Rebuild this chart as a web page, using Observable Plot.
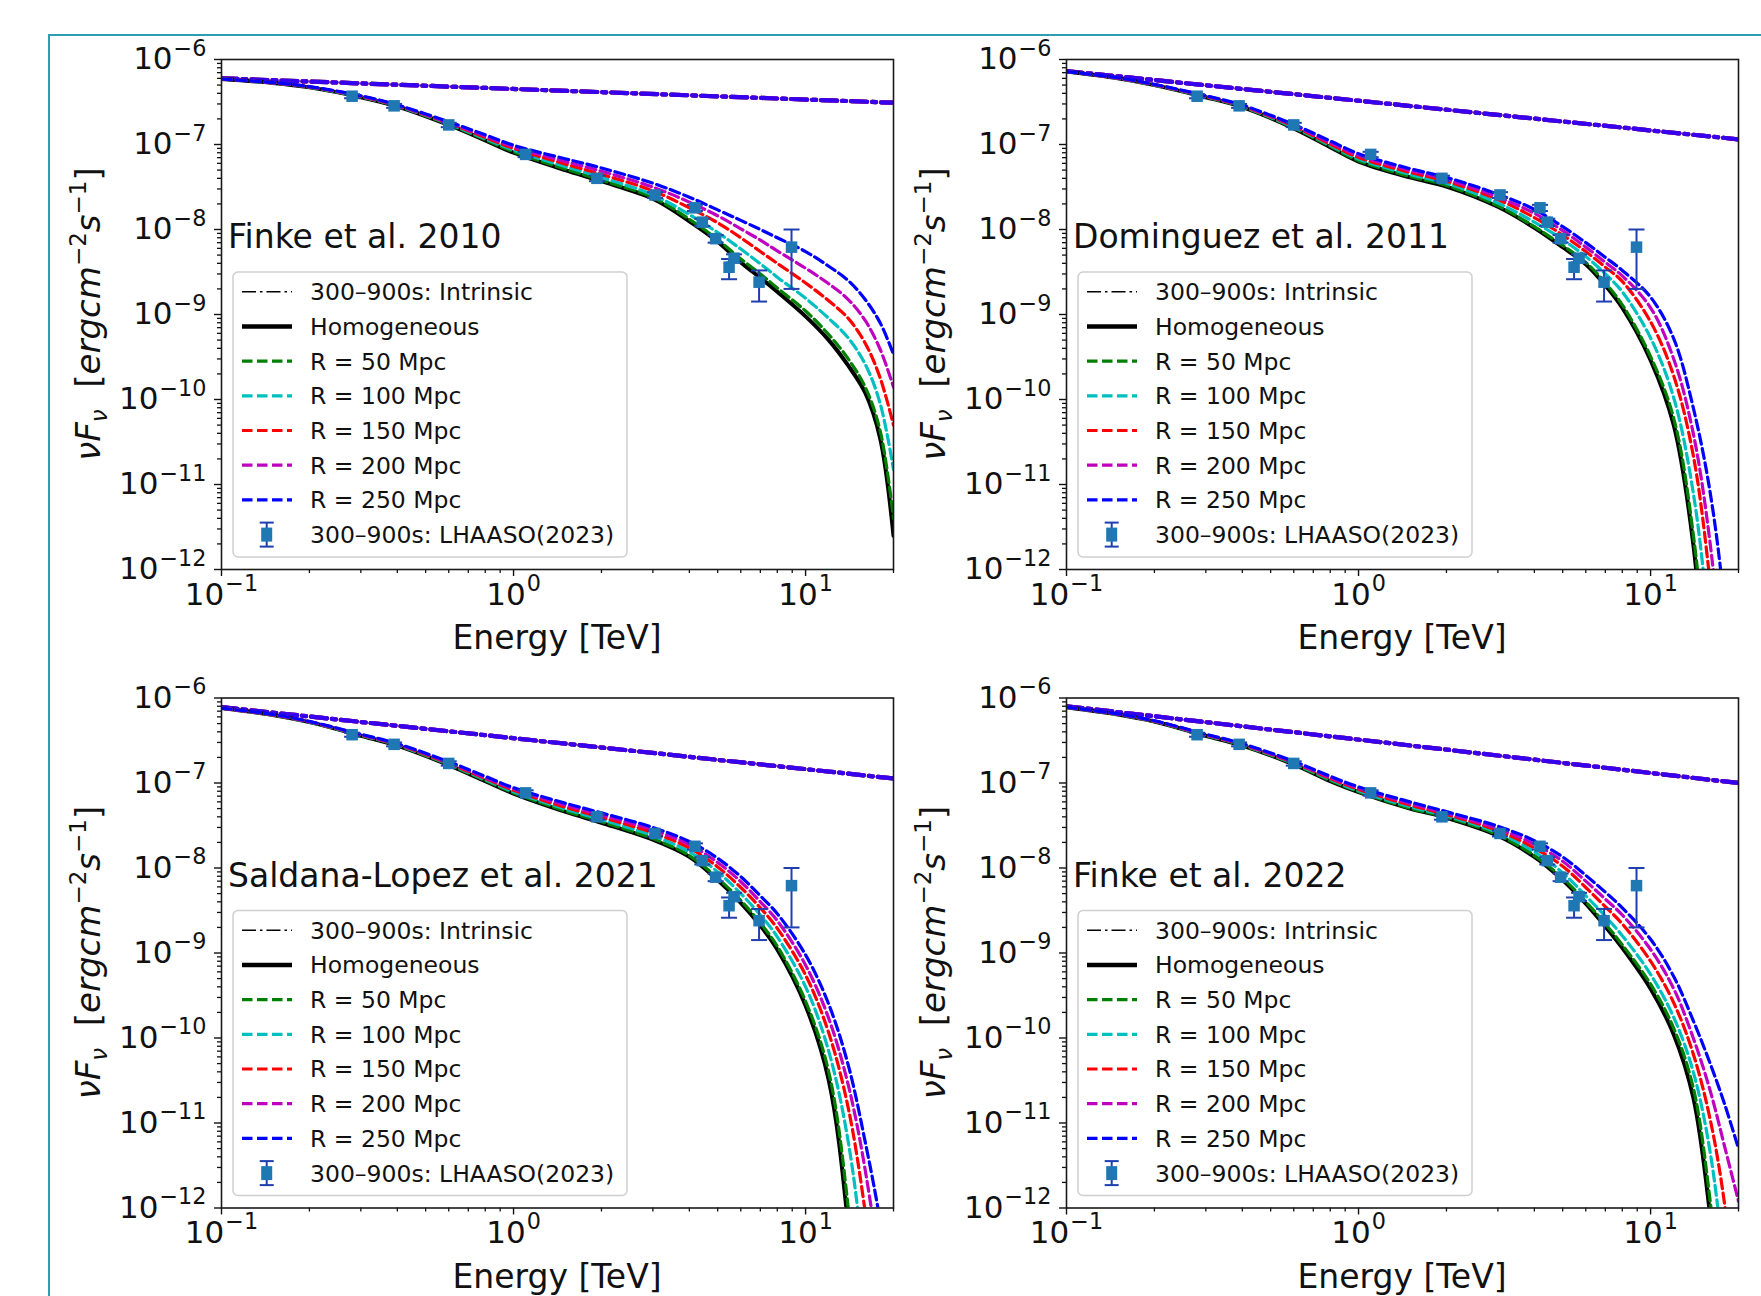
<!DOCTYPE html>
<html><head><meta charset="utf-8">
<script src="https://cdn.jsdelivr.net/npm/d3@7"></script>
<script src="https://cdn.jsdelivr.net/npm/@observablehq/plot@0.6"></script>
<style>
html,body{margin:0;padding:0;background:#fff;overflow:hidden;}
#root{position:relative;width:1761px;height:1296px;overflow:hidden;font-family:"DejaVu Sans";}
#root svg{position:absolute;left:0;top:0;}
#border{position:absolute;left:48px;top:34px;width:1800px;height:1400px;border-left:2px solid #2a9fb2;border-top:2px solid #2a9fb2;}
</style></head>
<body><div id="root"><div id="border"></div></div>
<script>
// ---------------- data ----------------
const energy = [0.1, 0.15, 0.2, 0.3, 0.4, 0.6, 0.8, 1, 1.5, 2, 3, 4, 5, 6, 7, 8, 10, 12, 14, 16, 18, 20];
const intrinsicEnergy = [0.1, 20];
const majorTicksX = [0.1, 1, 10];
const majorTicksY = [1e-12, 1e-11, 1e-10, 1e-9, 1e-8, 1e-7, 1e-6];
const panelTitles = ["Finke et al. 2010", "Dominguez et al. 2011", "Saldana-Lopez et al. 2021", "Finke et al. 2022"];
const seriesNames = ["Homogeneous", "R = 50 Mpc", "R = 100 Mpc", "R = 150 Mpc", "R = 200 Mpc", "R = 250 Mpc"];
const legendLabels = ["300\u2013900s: Intrinsic", "Homogeneous", "R = 50 Mpc", "R = 100 Mpc", "R = 150 Mpc", "R = 200 Mpc", "R = 250 Mpc", "300\u2013900s: LHAASO(2023)"];

// LHAASO 300-900 s
const lhaasoE  = [0.28, 0.39, 0.60, 1.10, 1.93, 3.05, 4.18, 4.43, 4.92, 5.47, 5.69, 6.93, 8.95];
const lhaasoF  = [3.7e-7, 2.85e-7, 1.7e-7, 7.65e-8, 4.0e-8, 2.55e-8, 1.8e-8, 1.22e-8, 7.8e-9, 3.6e-9, 4.6e-9, 2.4e-9, 6.2e-9];
const lhaasoLo = [3.5e-7, 2.7e-7, 1.6e-7, 7.1e-8, 3.7e-8, 2.35e-8, 1.65e-8, 1.1e-8, 7.0e-9, 2.6e-9, 4.1e-9, 1.42e-9, 2.0e-9];
const lhaasoHi = [3.9e-7, 3.0e-7, 1.8e-7, 8.2e-8, 4.3e-8, 2.75e-8, 1.95e-8, 1.34e-8, 8.6e-9, 4.5e-9, 5.1e-9, 3.3e-9, 1.0e-8];

// Finke et al. 2010
const intrinsicA = [6.0e-7, 3.1e-7];
const homA  = [5.9e-7, 5.3e-7, 4.7e-7, 3.6e-7, 2.8e-7, 1.7e-7, 1.12e-7, 8.0e-8, 5.0e-8, 3.7e-8, 2.3e-8, 1.25e-8, 7.2e-9, 4.1e-9, 2.7e-9, 1.85e-9, 9.5e-10, 5.0e-10, 2.5e-10, 1.2e-10, 3.5e-11, 2.5e-12];
const r50A  = [5.9e-7, 5.3e-7, 4.72e-7, 3.62e-7, 2.82e-7, 1.72e-7, 1.14e-7, 8.2e-8, 5.15e-8, 3.8e-8, 2.38e-8, 1.32e-8, 7.6e-9, 4.5e-9, 3.0e-9, 2.05e-9, 1.1e-9, 5.8e-10, 3.0e-10, 1.4e-10, 4.3e-11, 4e-12];
const r100A = [5.9e-7, 5.31e-7, 4.74e-7, 3.65e-7, 2.84e-7, 1.75e-7, 1.17e-7, 8.6e-8, 5.5e-8, 4.1e-8, 2.55e-8, 1.5e-8, 9.2e-9, 5.9e-9, 3.95e-9, 2.75e-9, 1.55e-9, 9.0e-10, 5.3e-10, 2.6e-10, 9.0e-11, 1.5e-11];
const r150A = [5.9e-7, 5.32e-7, 4.76e-7, 3.68e-7, 2.87e-7, 1.78e-7, 1.21e-7, 9.0e-8, 5.9e-8, 4.45e-8, 2.85e-8, 1.8e-8, 1.2e-8, 8.0e-9, 5.5e-9, 4.0e-9, 2.35e-9, 1.45e-9, 9.0e-10, 4.6e-10, 1.8e-10, 5.0e-11];
const r200A = [5.9e-7, 5.33e-7, 4.78e-7, 3.71e-7, 2.89e-7, 1.81e-7, 1.25e-7, 9.4e-8, 6.3e-8, 4.85e-8, 3.15e-8, 2.1e-8, 1.45e-8, 1.02e-8, 7.5e-9, 5.6e-9, 3.5e-9, 2.3e-9, 1.5e-9, 8.5e-10, 3.9e-10, 1.4e-10];
const r250A = [5.9e-7, 5.35e-7, 4.8e-7, 3.75e-7, 2.92e-7, 1.85e-7, 1.3e-7, 9.8e-8, 6.8e-8, 5.3e-8, 3.5e-8, 2.4e-8, 1.7e-8, 1.28e-8, 1.0e-8, 8.0e-9, 5.5e-9, 3.7e-9, 2.5e-9, 1.5e-9, 8.0e-10, 3.4e-10];

// Dominguez et al. 2011
const intrinsicB = [7.3e-7, 1.15e-7];
const homB  = [7.2e-7, 6.0e-7, 5.0e-7, 3.6e-7, 2.75e-7, 1.55e-7, 9.3e-8, 6.3e-8, 4.1e-8, 3.2e-8, 1.85e-8, 1.05e-8, 6.2e-9, 3.9e-9, 2.2e-9, 1.2e-9, 2.9e-10, 5.0e-11, 2.0e-12, 1e-14, 1e-16, 1e-18];
const r50B  = [7.2e-7, 6.0e-7, 5.0e-7, 3.62e-7, 2.77e-7, 1.57e-7, 9.5e-8, 6.45e-8, 4.2e-8, 3.3e-8, 1.9e-8, 1.08e-8, 6.5e-9, 4.1e-9, 2.35e-9, 1.3e-9, 3.2e-10, 6.0e-11, 2.6e-12, 2e-14, 1e-16, 1e-18];
const r100B = [7.2e-7, 6.02e-7, 5.02e-7, 3.65e-7, 2.8e-7, 1.6e-7, 9.8e-8, 6.75e-8, 4.45e-8, 3.5e-8, 2.05e-8, 1.22e-8, 7.6e-9, 4.8e-9, 3.0e-9, 1.85e-9, 5.3e-10, 1.05e-10, 8e-12, 1.5e-13, 1e-15, 1e-17];
const r150B = [7.2e-7, 6.04e-7, 5.04e-7, 3.68e-7, 2.83e-7, 1.64e-7, 1.01e-7, 7.05e-8, 4.7e-8, 3.7e-8, 2.25e-8, 1.38e-8, 8.6e-9, 5.5e-9, 3.6e-9, 2.45e-9, 8.2e-10, 1.9e-10, 2.2e-11, 7e-13, 1e-14, 1e-16];
const r200B = [7.2e-7, 6.06e-7, 5.07e-7, 3.71e-7, 2.86e-7, 1.68e-7, 1.05e-7, 7.4e-8, 4.95e-8, 3.9e-8, 2.4e-8, 1.55e-8, 9.7e-9, 6.2e-9, 4.1e-9, 2.85e-9, 1.2e-9, 3.0e-10, 4.0e-11, 2.0e-12, 3e-14, 1e-16];
const r250B = [7.2e-7, 6.1e-7, 5.1e-7, 3.75e-7, 2.9e-7, 1.72e-7, 1.1e-7, 7.8e-8, 5.2e-8, 4.1e-8, 2.6e-8, 1.72e-8, 1.08e-8, 7.0e-9, 4.7e-9, 3.3e-9, 1.6e-9, 5.2e-10, 8.0e-11, 8.0e-12, 3e-13, 1e-15];

// Saldana-Lopez et al. 2021
const intrinsicC = [7.8e-7, 1.13e-7];
const homC  = [7.6e-7, 6.3e-7, 5.2e-7, 3.6e-7, 2.75e-7, 1.62e-7, 1.05e-7, 7.5e-8, 4.6e-8, 3.4e-8, 2.15e-8, 1.35e-8, 7.2e-9, 3.9e-9, 2.1e-9, 1.1e-9, 2.4e-10, 3.2e-11, 6e-13, 1e-15, 1e-17, 1e-19];
const r50C  = [7.6e-7, 6.3e-7, 5.2e-7, 3.62e-7, 2.77e-7, 1.64e-7, 1.07e-7, 7.65e-8, 4.7e-8, 3.5e-8, 2.22e-8, 1.4e-8, 7.6e-9, 4.15e-9, 2.25e-9, 1.2e-9, 2.7e-10, 4.0e-11, 1.0e-12, 3e-15, 1e-17, 1e-19];
const r100C = [7.6e-7, 6.32e-7, 5.22e-7, 3.65e-7, 2.8e-7, 1.67e-7, 1.1e-7, 7.9e-8, 4.95e-8, 3.7e-8, 2.4e-8, 1.55e-8, 9.0e-9, 5.0e-9, 2.8e-9, 1.55e-9, 4.0e-10, 7.0e-11, 6e-12, 1.5e-13, 1e-15, 1e-17];
const r150C = [7.6e-7, 6.34e-7, 5.25e-7, 3.68e-7, 2.83e-7, 1.7e-7, 1.13e-7, 8.2e-8, 5.2e-8, 3.95e-8, 2.6e-8, 1.72e-8, 1.03e-8, 5.9e-9, 3.4e-9, 1.95e-9, 5.5e-10, 1.15e-10, 1.5e-11, 9e-13, 3e-14, 1e-16];
const r200C = [7.6e-7, 6.36e-7, 5.27e-7, 3.71e-7, 2.86e-7, 1.74e-7, 1.16e-7, 8.5e-8, 5.5e-8, 4.2e-8, 2.8e-8, 1.88e-8, 1.16e-8, 6.9e-9, 4.0e-9, 2.4e-9, 7.2e-10, 1.7e-10, 2.8e-11, 2.8e-12, 1.5e-13, 1e-15];
const r250C = [7.6e-7, 6.4e-7, 5.3e-7, 3.75e-7, 2.9e-7, 1.78e-7, 1.2e-7, 8.8e-8, 5.8e-8, 4.45e-8, 3.0e-8, 2.05e-8, 1.3e-8, 7.9e-9, 4.7e-9, 2.9e-9, 9.5e-10, 2.5e-10, 4.8e-11, 6e-12, 7e-13, 5e-14];

// Finke et al. 2022
const intrinsicD = [8.0e-7, 1.0e-7];
const homD  = [7.8e-7, 6.4e-7, 5.3e-7, 3.6e-7, 2.75e-7, 1.65e-7, 1.05e-7, 7.8e-8, 5.0e-8, 3.9e-8, 2.4e-8, 1.35e-8, 7.2e-9, 3.8e-9, 2.05e-9, 1.15e-9, 3.8e-10, 1.1e-10, 2.0e-11, 8e-13, 1e-14, 1e-16];
const r50D  = [7.8e-7, 6.4e-7, 5.3e-7, 3.62e-7, 2.77e-7, 1.67e-7, 1.07e-7, 7.9e-8, 5.05e-8, 3.95e-8, 2.45e-8, 1.4e-8, 7.6e-9, 4.0e-9, 2.2e-9, 1.25e-9, 4.3e-10, 1.3e-10, 2.6e-11, 1.2e-12, 2e-14, 1e-16];
const r100D = [7.8e-7, 6.42e-7, 5.32e-7, 3.65e-7, 2.8e-7, 1.7e-7, 1.1e-7, 8.1e-8, 5.25e-8, 4.1e-8, 2.6e-8, 1.55e-8, 8.8e-9, 4.7e-9, 2.7e-9, 1.6e-9, 5.6e-10, 1.75e-10, 4.0e-11, 4.5e-12, 1.5e-13, 1e-15];
const r150D = [7.8e-7, 6.44e-7, 5.35e-7, 3.68e-7, 2.83e-7, 1.73e-7, 1.13e-7, 8.4e-8, 5.5e-8, 4.25e-8, 2.75e-8, 1.72e-8, 1.05e-8, 5.9e-9, 3.5e-9, 2.2e-9, 8.0e-10, 2.6e-10, 6.5e-11, 1.1e-11, 1.0e-12, 3e-14];
const r200D = [7.8e-7, 6.46e-7, 5.37e-7, 3.71e-7, 2.86e-7, 1.76e-7, 1.16e-7, 8.7e-8, 5.75e-8, 4.4e-8, 2.9e-8, 1.9e-8, 1.2e-8, 7.0e-9, 4.3e-9, 2.8e-9, 1.1e-9, 3.8e-10, 1.0e-10, 2.4e-11, 5e-12, 1.2e-12];
const r250D = [7.8e-7, 6.5e-7, 5.4e-7, 3.75e-7, 2.9e-7, 1.8e-7, 1.2e-7, 9.0e-8, 6.0e-8, 4.6e-8, 3.1e-8, 2.1e-8, 1.35e-8, 8.2e-9, 5.2e-9, 3.4e-9, 1.45e-9, 5.3e-10, 1.6e-10, 5.0e-11, 1.6e-11, 5e-12];

// ---------------- layout / style ----------------
const W = 1761, H = 1296, FW = 672, FH = 510;
const frames = [[221, 59], [1066, 59], [221, 697.5], [1066, 697.5]];
const seriesColors = ["black", "#008000", "#00bfbf", "#ff0000", "#bf00bf", "#0000ff"];
const markerColor = "#1f77b4", errColor = "#1f3fb0";
const dashed = "10,4.5", dashDot = "16,5,4,5";

const panels = [
  {title: panelTitles[0], intrinsic: intrinsicA, curves: [homA, r50A, r100A, r150A, r200A, r250A]},
  {title: panelTitles[1], intrinsic: intrinsicB, curves: [homB, r50B, r100B, r150B, r200B, r250B]},
  {title: panelTitles[2], intrinsic: intrinsicC, curves: [homC, r50C, r100C, r150C, r200C, r250C]},
  {title: panelTitles[3], intrinsic: intrinsicD, curves: [homD, r50D, r100D, r150D, r200D, r250D]}
];

const lhaaso = lhaasoE.map((e, i) => ({E: e, F: lhaasoF[i], lo: lhaasoLo[i], hi: lhaasoHi[i]}));

const minorX = [], minorY = [];
for (const d of [0.1, 1, 10]) for (let m = 2; m <= 9; m++) if (d * m <= 20.01) minorX.push(d * m);
for (const d of majorTicksY.slice(0, -1)) for (let m = 2; m <= 9; m++) minorY.push(d * m);

const capSymbol = {draw(ctx, size) { const w = Math.sqrt(size / Math.PI); ctx.moveTo(-w, 0); ctx.lineTo(w, 0); }};
const fmt = d => "10^" + Math.round(Math.log10(d));

const root = document.getElementById("root");

function superscriptTicks(svg) {
  d3.select(svg).selectAll("text").each(function () {
    const t = this.textContent;
    const m = /^10\^(-?\d+)$/.exec(t);
    if (!m) return;
    const sel = d3.select(this);
    sel.text(null);
    sel.append("tspan").text("10");
    sel.append("tspan").attr("dy", "-0.62em").attr("dx", "1").style("font-size", "0.72em").text(m[1].replace("-", "\u2212"));
  });
}

function decorate(svg, fx0, fy0, title) {
  const s = d3.select(svg);
  const font = "DejaVu Sans";
  // title
  s.append("text").attr("x", fx0 + 7).attr("y", fy0 + 189).attr("text-anchor", "start")
    .style("font-family", font).style("font-size", "33px").attr("fill", "#111").text(title);
  // x label
  s.append("text").attr("x", fx0 + FW / 2).attr("y", fy0 + 590).attr("text-anchor", "middle")
    .style("font-family", font).style("font-size", "33px").attr("fill", "#111").text("Energy [TeV]");
  // y label
  const yl = s.append("text").attr("transform", `translate(${fx0 - 121},${fy0 + FH / 2}) rotate(-90)`)
    .attr("text-anchor", "middle").style("font-family", font).style("font-size", "34px")
    .style("white-space", "pre").attr("fill", "#111");
  yl.append("tspan").style("font-style", "italic").text("\u03bdF");
  yl.append("tspan").style("font-style", "italic").style("font-size", "23px").attr("dy", 7).text("\u03bd");
  yl.append("tspan").attr("dy", -7).text("  [");
  yl.append("tspan").style("font-style", "italic").text("ergcm");
  yl.append("tspan").style("font-size", "23px").attr("dy", -14).text("\u22122");
  yl.append("tspan").style("font-style", "italic").attr("dy", 14).text("s");
  yl.append("tspan").style("font-size", "23px").attr("dy", -14).text("\u22121");
  yl.append("tspan").attr("dy", 14).text("]");
  // legend
  const g = s.append("g").attr("text-anchor", "start");
  g.append("rect").attr("x", fx0 + 12).attr("y", fy0 + 213).attr("width", 394).attr("height", 285).attr("rx", 5)
    .attr("fill", "white").attr("fill-opacity", 0.8).attr("stroke", "#cfcfcf").attr("stroke-width", 1.5);
  legendLabels.forEach((lab, i) => {
    const y = fy0 + 232.7 + i * 34.7, x1 = fx0 + 21, x2 = fx0 + 71;
    if (i === 0) {
      g.append("line").attr("x1", x1).attr("x2", x2).attr("y1", y).attr("y2", y).attr("stroke", "black")
        .attr("stroke-width", 1.5).attr("stroke-dasharray", "14,4,2.5,4");
    } else if (i === 1) {
      g.append("line").attr("x1", x1).attr("x2", x2).attr("y1", y).attr("y2", y).attr("stroke", "black").attr("stroke-width", 4.5);
    } else if (i < 7) {
      g.append("line").attr("x1", x1).attr("x2", x2).attr("y1", y).attr("y2", y).attr("stroke", seriesColors[i - 1])
        .attr("stroke-width", 3.2).attr("stroke-dasharray", "10.5,4.5");
    } else {
      const cx = fx0 + 45.7;
      g.append("line").attr("x1", cx).attr("x2", cx).attr("y1", y - 12).attr("y2", y + 12).attr("stroke", errColor).attr("stroke-width", 2);
      g.append("line").attr("x1", cx - 7).attr("x2", cx + 7).attr("y1", y - 12).attr("y2", y - 12).attr("stroke", errColor).attr("stroke-width", 2);
      g.append("line").attr("x1", cx - 7).attr("x2", cx + 7).attr("y1", y + 12).attr("y2", y + 12).attr("stroke", errColor).attr("stroke-width", 2);
      g.append("rect").attr("x", cx - 5.5).attr("y", y - 7).attr("width", 11).attr("height", 14).attr("fill", markerColor);
    }
    g.append("text").attr("x", fx0 + 89).attr("y", y).attr("dy", "0.36em").attr("text-anchor", "start")
      .style("font-family", font).style("font-size", "23.5px").attr("fill", "#111").text(lab);
  });
}

panels.forEach((p, pi) => {
  const [fx0, fy0] = frames[pi];
  const intrRows = intrinsicEnergy.map((e, i) => ({E: e, F: p.intrinsic[i]}));
  const marks = [];
  // intrinsic (dash-dot), several coloured copies overlapping
  marks.push(Plot.line(intrRows, {x: "E", y: "F", stroke: "black", strokeWidth: 1.5, strokeDasharray: dashDot, clip: true}));
  for (const [c, op] of [["#00bfbf", 1], ["#ff0000", 1], ["#bf00bf", 1], ["#0000ff", 0.72]]) {
    marks.push(Plot.line(intrRows, {x: "E", y: "F", stroke: c, strokeOpacity: op, strokeWidth: 4.2, strokeDasharray: dashDot, clip: true}));
  }
  p.curves.forEach((vals, k) => {
    const rows = energy.map((e, i) => ({E: e, F: vals[i], s: seriesNames[k]}));
    marks.push(Plot.line(rows, {
      x: "E", y: "F", stroke: seriesColors[k], curve: "catmull-rom", clip: true,
      strokeWidth: k === 0 ? 4 : 3.2, strokeDasharray: k === 0 ? null : dashed
    }));
  });
  // LHAASO error bars and markers
  marks.push(Plot.ruleX(lhaaso, {x: "E", y1: "lo", y2: "hi", stroke: errColor, strokeWidth: 2}));
  marks.push(Plot.dot(lhaaso, {x: "E", y: "lo", symbol: capSymbol, r: 8, stroke: errColor, strokeWidth: 2, fill: "none"}));
  marks.push(Plot.dot(lhaaso, {x: "E", y: "hi", symbol: capSymbol, r: 8, stroke: errColor, strokeWidth: 2, fill: "none"}));
  marks.push(Plot.dot(lhaaso, {x: "E", y: "F", symbol: "square", r: 6.5, fill: markerColor}));
  // axes
  marks.push(Plot.axisX({ticks: minorX, tickSize: 4, tickFormat: () => "", label: null, strokeWidth: 1.3, stroke: "#111"}));
  marks.push(Plot.axisX({ticks: majorTicksX, tickSize: 7, tickPadding: 6, tickFormat: fmt, label: null, strokeWidth: 1.4, stroke: "#111", fill: "#111"}));
  marks.push(Plot.axisY({ticks: minorY, tickSize: 4, tickFormat: () => "", label: null, strokeWidth: 1.3, stroke: "#111"}));
  marks.push(Plot.axisY({ticks: majorTicksY, tickSize: 7, tickPadding: 8, tickFormat: fmt, label: null, strokeWidth: 1.4, stroke: "#111", fill: "#111"}));
  marks.push(Plot.frame({stroke: "#1a1a1a", strokeWidth: 1.6}));

  const svg = Plot.plot({
    width: W, height: H,
    marginLeft: fx0, marginRight: W - fx0 - FW, marginTop: fy0, marginBottom: H - fy0 - FH,
    x: {type: "log", domain: [0.1, 20]},
    y: {type: "log", domain: [1e-12, 1e-6]},
    style: {background: "transparent", fontFamily: "DejaVu Sans", fontSize: "31px", color: "#111", overflow: "visible"},
    marks
  });
  superscriptTicks(svg);
  decorate(svg, fx0, fy0, p.title);
  root.appendChild(svg);
});
</script></body></html>
